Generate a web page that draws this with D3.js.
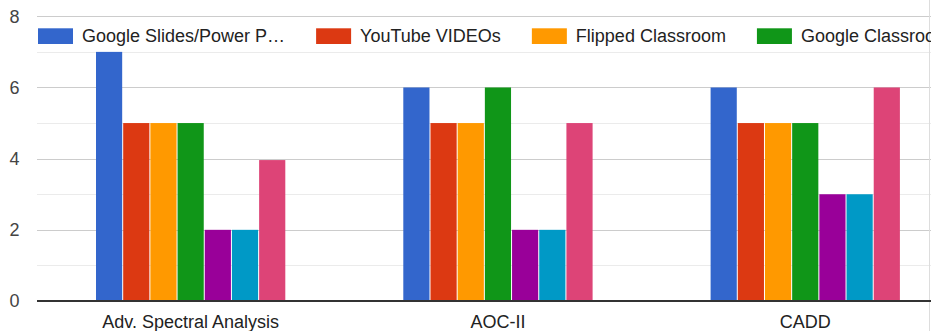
<!DOCTYPE html>
<html>
<head>
  <title></title>
  <style type="text/css">
    body { margin: 0; background: #fff; }
    #my_dataviz text { font-family: Arial, "Liberation Sans", sans-serif; font-size: 18px; }
  </style>
</head>
<body>
  <div id="my_dataviz"></div>
<script src="https://d3js.org/d3.v7.min.js"></script>
<script type="text/javascript">

      var categories = ["Adv. Spectral Analysis", "AOC-II", "CADD"];
      var seriesNames = ["Google Slides/Power Point", "YouTube VIDEOs", "Flipped Classroom", "Google Classroom", "Series 5", "Series 6", "Series 7"];
      var legendLabels = ["Google Slides/Power P\u2026", "YouTube VIDEOs", "Flipped Classroom", "Google Classroom", "Series 5", "Series 6", "Series 7"];
      // one array per course, values in series order
      var advSpectral = [7, 5, 5, 5, 2, 2, 3.96];
      var aocII = [6, 5, 5, 6, 2, 2, 5];
      var cadd = [6, 5, 5, 5, 3, 3, 6];
      var yTicks = [0, 2, 4, 6, 8];
      var colors = ["#3366cc", "#dc3912", "#ff9900", "#109618", "#990099", "#0099c6", "#dd4477"];

      var rows = [advSpectral, aocII, cadd];
      var data = categories.map(function(c, i) { return {cat: c, values: rows[i]}; });

      var W = 931, H = 331;
      var svg = d3.select("#my_dataviz")
        .append("svg")
          .attr("width", W)
          .attr("height", H);

      var left = 37, groupStep = 307.3;

      var x = d3.scaleBand()
          .domain(categories)
          .range([left, left + groupStep * categories.length])
          .padding(0);

      var y = d3.scaleLinear()
          .domain([0, 8])
          .range([301, 16.3]);

      var groupWidth = 189.3;
      var xSub = d3.scaleBand()
          .domain(seriesNames)
          .range([0, groupWidth])
          .paddingInner(0.037)
          .paddingOuter(0);

      var color = d3.scaleOrdinal().domain(seriesNames).range(colors);

      // gridlines, every 1 (light) and every 2 (darker)
      var grid = svg.append("g");
      d3.range(1, 9).forEach(function(v) {
        grid.append("line")
          .attr("x1", left).attr("x2", W)
          .attr("y1", Math.round(y(v)) + 0.5).attr("y2", Math.round(y(v)) + 0.5)
          .attr("stroke", v % 2 == 0 ? "#cccccc" : "#ebebeb")
          .attr("stroke-width", 1);
      });

      // right border
      svg.append("line")
        .attr("x1", 929.5).attr("x2", 929.5)
        .attr("y1", 0).attr("y2", H)
        .attr("stroke", "#dddddd");

      // y labels
      svg.append("g")
        .selectAll("text")
        .data(yTicks)
        .enter().append("text")
          .attr("x", 19.5)
          .attr("y", function(d) { return y(d); })
          .attr("dy", "0.36em")
          .attr("text-anchor", "end")
          .attr("fill", "#444444")
          .text(function(d) { return d; });

      // bars
      svg.append("g")
        .selectAll("g")
        .data(data)
        .enter()
        .append("g")
          .attr("transform", function(d) { return "translate(" + (x(d.cat) + x.bandwidth() / 2 - groupWidth / 2) + ",0)"; })
        .selectAll("rect")
        .data(function(d) { return seriesNames.map(function(key, i) { return {key: key, value: d.values[i]}; }); })
        .enter().append("rect")
          .attr("x", function(d) { return xSub(d.key); })
          .attr("y", function(d) { return y(d.value); })
          .attr("width", xSub.bandwidth())
          .attr("height", function(d) { return y(0) - 1 - y(d.value); })
          .attr("fill", function(d) { return color(d.key); });

      // baseline
      svg.append("line")
        .attr("x1", left).attr("x2", W)
        .attr("y1", y(0)).attr("y2", y(0))
        .attr("stroke", "#333333")
        .attr("stroke-width", 2);

      // x labels
      svg.append("g")
        .selectAll("text")
        .data(categories)
        .enter().append("text")
          .attr("x", function(d) { return x(d) + x.bandwidth() / 2; })
          .attr("y", 328)
          .attr("text-anchor", "middle")
          .attr("fill", "#222222")
          .text(function(d) { return d; });

      // legend (runs off the right edge like the original)
      var legend = svg.append("g");
      var lx = 38;
      legendLabels.forEach(function(label, i) {
        if (lx > W) return;
        legend.append("rect")
          .attr("x", lx).attr("y", 28.3)
          .attr("width", 35).attr("height", 15.7)
          .attr("fill", colors[i]);
        var t = legend.append("text")
          .attr("x", lx + 44).attr("y", 42.3)
          .attr("fill", "#222222")
          .text(label);
        lx = lx + 44 + t.node().getComputedTextLength() + 31;
      });

</script>
</body>
</html>
